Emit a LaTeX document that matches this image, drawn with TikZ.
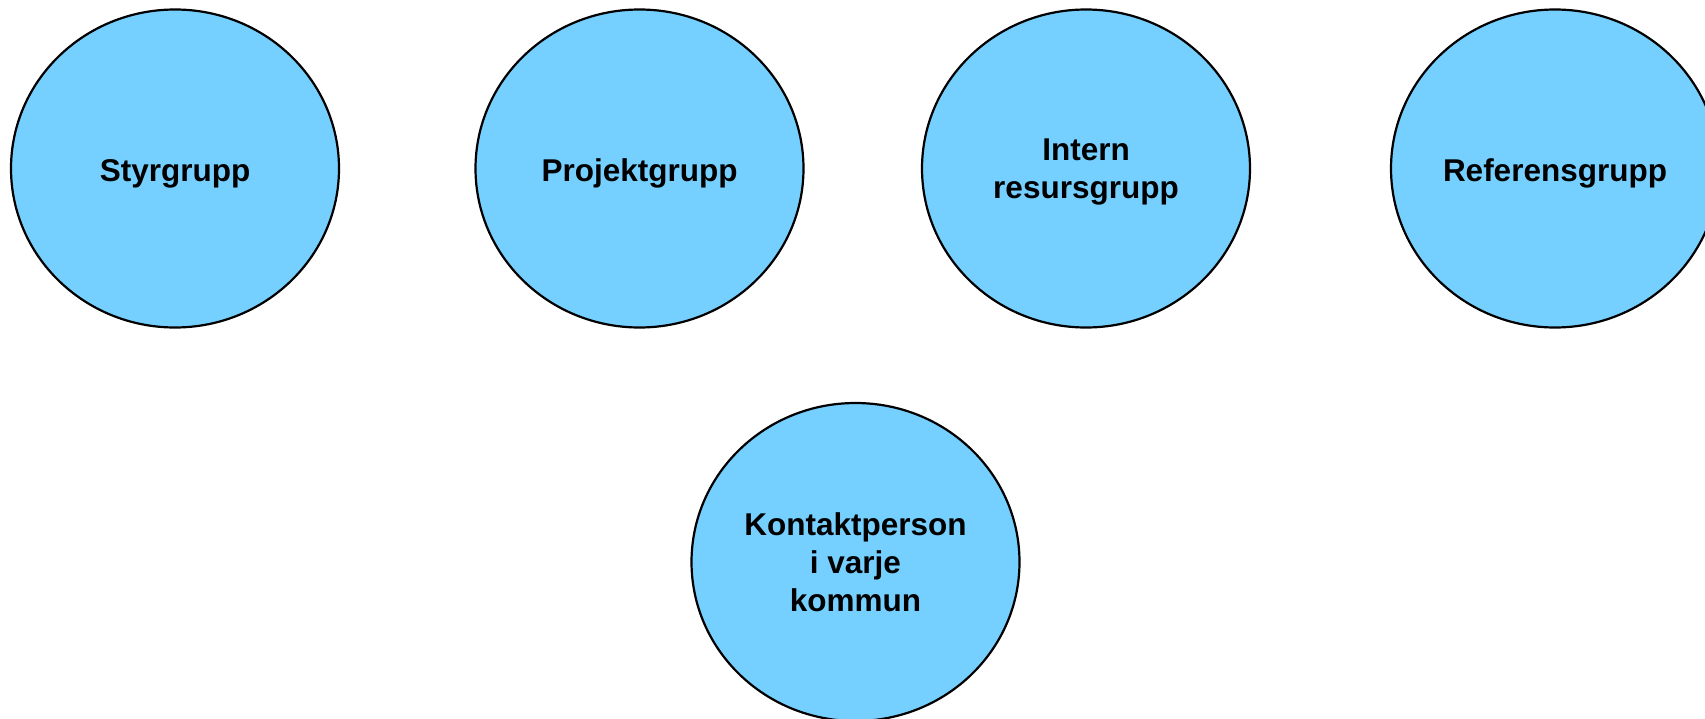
\documentclass[tikz,border=0pt]{standalone}
\usepackage{fontspec}
\setmainfont{Liberation Sans}
\usetikzlibrary{shapes.geometric}
\definecolor{grpfill}{RGB}{118,208,255}
\newcommand{\lowertext}[2]{\raisebox{0pt}[\dimexpr\height+#1\relax]{#2}}
\begin{document}
\begin{tikzpicture}[x=1pt,y=-1pt,
  grp/.style={ellipse, draw=black, line width=2.2pt, fill=grpfill,
    minimum width=328pt, minimum height=318pt, inner sep=0pt,
    align=center, font=\fontsize{31.5}{38}\selectfont\bfseries}]
\useasboundingbox (0,0) rectangle (1705,718);
\node[grp] (styr) at (175,168.5) {\lowertext{10pt}{Styrgrupp}};
\node[grp] (proj) at (639.5,168.5) {\lowertext{10pt}{Projektgrupp}};
\node[grp] (intern) at (1086,168.5) {\lowertext{6pt}{\begin{tabular}{@{}c@{}}Intern\\resursgrupp\end{tabular}}};
\node[grp] (ref) at (1555,168.5) {\lowertext{10pt}{Referensgrupp}};
\node[grp] (kontakt) at (855.5,562) {Kontaktperson\\i varje\\kommun};
\end{tikzpicture}
\end{document}
